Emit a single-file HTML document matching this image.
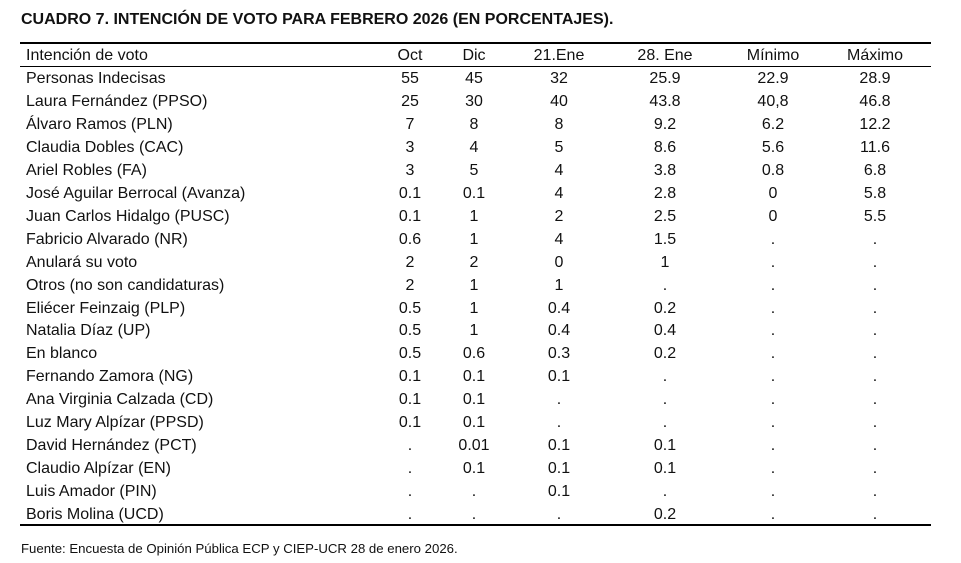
<!DOCTYPE html>
<html><head><meta charset="utf-8"><style>
body{margin:0;width:961px;height:563px;background:#fff;font-family:"Liberation Sans",sans-serif;color:#111;position:relative;overflow:hidden}
.t{position:absolute;left:21px;top:11px;font-weight:bold;font-size:16px}
.l{position:absolute;left:20px;width:911px;background:#000}
.r{position:absolute;left:0;width:961px;height:23px;line-height:23px;font-size:16px}
.r span{position:absolute;top:0}
.c{transform:translateX(-50%);}
.f{position:absolute;left:21px;top:541px;font-size:13.2px}
</style></head><body>
<div class="t">CUADRO 7. INTENCIÓN DE VOTO PARA FEBRERO 2026 (EN PORCENTAJES).</div>
<div class="l" style="top:42px;height:2px"></div>
<div class="l" style="top:66px;height:1px"></div>
<div class="l" style="top:524px;height:2px"></div>
<div id="rows"></div>
<div class="f">Fuente: Encuesta de Opinión Pública ECP y CIEP-UCR 28 de enero 2026.</div>
<script>
var d=[["Intención de voto","Oct","Dic","21.Ene","28. Ene","Mínimo","Máximo"],
["Personas Indecisas","55","45","32","25.9","22.9","28.9"],
["Laura Fernández (PPSO)","25","30","40","43.8","40,8","46.8"],
["Álvaro Ramos (PLN)","7","8","8","9.2","6.2","12.2"],
["Claudia Dobles (CAC)","3","4","5","8.6","5.6","11.6"],
["Ariel Robles (FA)","3","5","4","3.8","0.8","6.8"],
["José Aguilar Berrocal (Avanza)","0.1","0.1","4","2.8","0","5.8"],
["Juan Carlos Hidalgo (PUSC)","0.1","1","2","2.5","0","5.5"],
["Fabricio Alvarado (NR)","0.6","1","4","1.5",".","."],
["Anulará su voto","2","2","0","1",".","."],
["Otros (no son candidaturas)","2","1","1",".",".","."],
["Eliécer Feinzaig (PLP)","0.5","1","0.4","0.2",".","."],
["Natalia Díaz (UP)","0.5","1","0.4","0.4",".","."],
["En blanco","0.5","0.6","0.3","0.2",".","."],
["Fernando Zamora (NG)","0.1","0.1","0.1",".",".","."],
["Ana Virginia Calzada (CD)","0.1","0.1",".",".",".","."],
["Luz Mary Alpízar (PPSD)","0.1","0.1",".",".",".","."],
["David Hernández (PCT)",".","0.01","0.1","0.1",".","."],
["Claudio Alpízar (EN)",".","0.1","0.1","0.1",".","."],
["Luis Amador (PIN)",".",".","0.1",".",".","."],
["Boris Molina (UCD)",".",".",".","0.2",".","."]];
var xs=[410,474,559,665,773,875],h="";
d.forEach(function(r,i){var y=(i==0?55:78.5+(i-1)*22.95)-11.5;
h+='<div class="r" style="top:'+y+'px"><span style="left:26px">'+r[0]+'</span>';
for(var j=1;j<7;j++)h+='<span class="c" style="left:'+xs[j-1]+'px">'+r[j]+'</span>';
h+='</div>';});
document.getElementById('rows').innerHTML=h;
</script>
</body></html>
